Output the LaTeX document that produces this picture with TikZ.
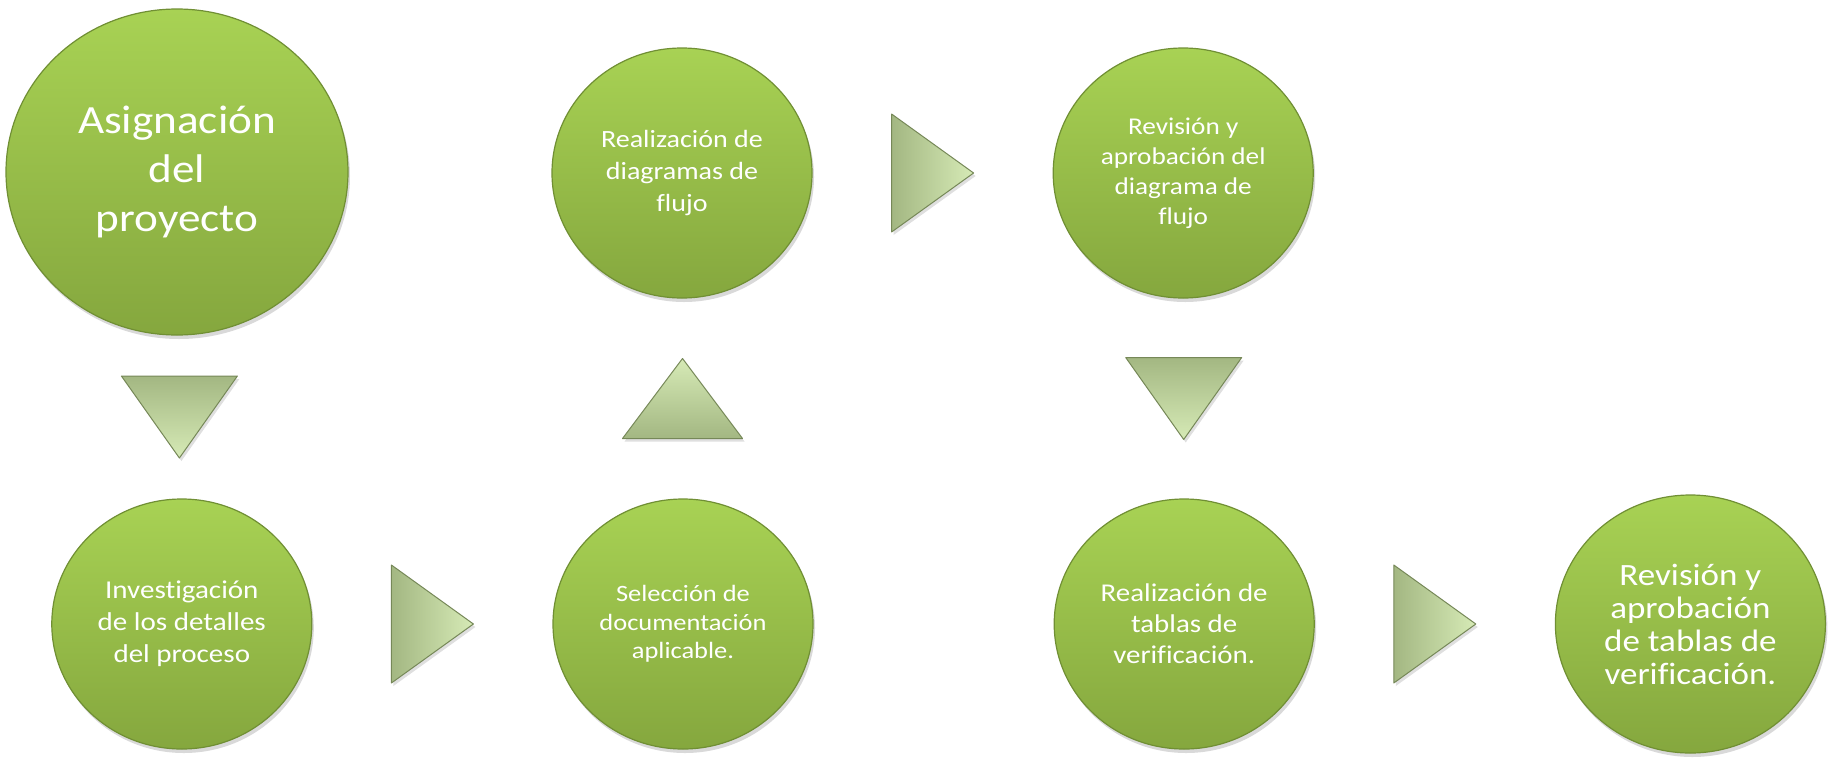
\documentclass[tikz,border=0pt]{standalone}
\usepackage{fontspec}
\setmainfont{Carlito}[FakeStretch=1.13,Ligatures=NoCommon]
\usetikzlibrary{shapes.geometric,positioning,calc,shadows}

\definecolor{verdeSup}{RGB}{168,210,84}
\definecolor{verdeInf}{RGB}{133,167,62}
\definecolor{verdeBorde}{RGB}{112,143,52}
\definecolor{triOscuro}{RGB}{163,183,130}
\definecolor{triClaro}{RGB}{214,234,182}
\definecolor{triBorde}{RGB}{118,136,88}

\begin{document}
\begin{tikzpicture}
  [x=1pt,y=-1pt,
   circN/.style={ellipse,minimum width=260pt,minimum height=250pt,inner sep=0pt,
     top color=verdeSup,bottom color=verdeInf,draw=verdeBorde,line width=1.2pt,
     text=white,align=center,
     drop shadow={shadow xshift=2pt,shadow yshift=-4pt,opacity=0.3}},
   bigN/.style={circN,minimum width=342pt,minimum height=326pt},
   lastN/.style={circN,minimum width=270pt,minimum height=258pt},
   triN/.style={draw=triBorde,line width=1pt,line join=round,
     drop shadow={shadow xshift=2pt,shadow yshift=-3pt,opacity=0.25}},
   triD/.style={triN,top color=triOscuro,bottom color=triClaro},
   triR/.style={triN,left color=triOscuro,right color=triClaro},
   triU/.style={triN,top color=triClaro,bottom color=triOscuro},
   node distance=240pt]

  \useasboundingbox (0,0) rectangle (1831,761);

  \node[bigN,font=\fontsize{40}{49}\selectfont] (asig) at (177,172)
    {Asignación\\del\\proyecto};

  \node[circN,font=\fontsize{24.8}{32}\selectfont] (diag) at (682,173)
    {Realización de\\diagramas de\\flujo};
  \node[circN,font=\fontsize{24.1}{30}\selectfont] (rev) [right=of diag]
    {Revisión y\\aprobación del\\diagrama de\\flujo};

  \node[circN,font=\fontsize{23.4}{28.5}\selectfont] (sel) at (683,624)
    {Selección de\\documentación\\aplicable.};
  \node[circN,font=\fontsize{25.7}{32}\selectfont] (inv) [left=of sel]
    {Investigación\\de los detalles\\del proceso};
  \node[circN,font=\fontsize{25.6}{31}\selectfont] (tab) [right=of sel]
    {Realización de\\tablas de\\verificación.};
  \node[lastN,font=\fontsize{31}{33}\selectfont] (fin) [right=of tab]
    {Revisión y\\aprobación\\de tablas de\\verificación.};

  % flechas entre los pasos
  \coordinate (m1) at ($(asig.south)!0.5!(inv.north)$);
  \coordinate (m2) at ($(inv.east)!0.5!(sel.west)$);
  \coordinate (m3) at ($(sel.north)!0.5!(diag.south)$);
  \coordinate (m4) at ($(diag.east)!0.5!(rev.west)$);
  \coordinate (m5) at ($(rev.south)!0.5!(tab.north)$);
  \coordinate (m6) at ($(tab.east)!0.5!(fin.west)$);

  \foreach \m in {m1,m5}
    \draw[triD] ($(\m)+(-58,-41)$) -- ($(\m)+(58,-41)$) -- ($(\m)+(0,41)$) -- cycle;
  \foreach \m in {m2,m4,m6}
    \draw[triR] ($(\m)+(-41,-59)$) -- ($(\m)+(-41,59)$) -- ($(\m)+(41,0)$) -- cycle;
  \draw[triU] ($(m3)+(-60,40)$) -- ($(m3)+(60,40)$) -- ($(m3)+(0,-40)$) -- cycle;

\end{tikzpicture}
\end{document}
